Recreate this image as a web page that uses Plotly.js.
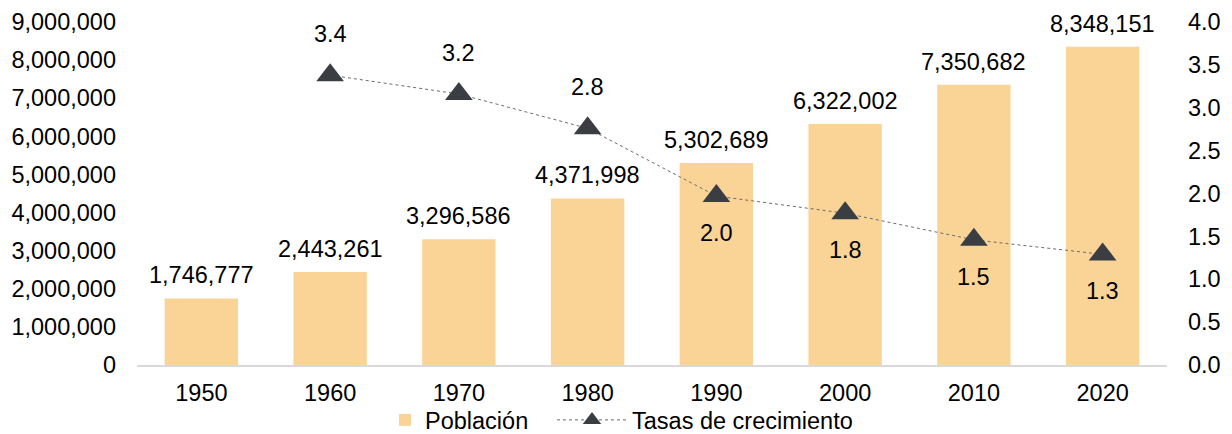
<!DOCTYPE html>
<html>
<head>
<meta charset="utf-8">
<script src="https://cdn.plot.ly/plotly-3.0.1.min.js"></script>
<style>html,body{margin:0;padding:0;background:#fff;}#chart{width:1232px;height:434px;}</style>
</head>
<body>
<div id="chart"></div>
<script>
const years = [1950, 1960, 1970, 1980, 1990, 2000, 2010, 2020];
const population = [1746777, 2443261, 3296586, 4371998, 5302689, 6322002, 7350682, 8348151];
const growthRates = [null, 3.38, 3.16, 2.76, 1.97, 1.77, 1.46, 1.29];
const leftTicks = [0, 1000000, 2000000, 3000000, 4000000, 5000000, 6000000, 7000000, 8000000, 9000000];
const rightTicks = [0, 0.5, 1, 1.5, 2, 2.5, 3, 3.5, 4];
const seriesNames = ['Población', 'Tasas de crecimiento'];

const FONT = 'Liberation Sans, Arial, sans-serif';
const FS = 23.5;

const bars = {
  type: 'bar', name: seriesNames[0], x: years, y: population, legend: 'legend',
  marker: {color: '#F9D496'}, width: 5.7, hoverinfo: 'skip'
};
const line = {
  type: 'scatter', mode: 'lines+markers', name: seriesNames[1], x: years, y: growthRates,
  yaxis: 'y2', connectgaps: false, legend: 'legend2',
  line: {color: '#6b6b6b', width: 1, dash: 'dot'},
  marker: {symbol: 'triangle-up', size: 24, color: '#3A3E43'}, hoverinfo: 'skip'
};

const annotations = [];
years.forEach((yr, i) => {
  annotations.push({
    x: yr, y: population[i], xref: 'x', yref: 'y',
    text: population[i].toLocaleString('en-US'), showarrow: false,
    yanchor: 'middle', yshift: 23, font: {family: FONT, size: FS, color: '#000'}
  });
  if (growthRates[i] !== null) {
    const above = growthRates[i] > 2.5;
    annotations.push({
      x: yr, y: growthRates[i], xref: 'x', yref: 'y2',
      text: growthRates[i].toFixed(1), showarrow: false,
      yanchor: 'middle', yshift: above ? 41 : -37, font: {family: FONT, size: FS, color: '#000'}
    });
  }
});

const legendBase = {orientation: 'h', xanchor: 'left', xref: 'container', y: 0.032, yanchor: 'middle', yref: 'container',
  bgcolor: 'rgba(0,0,0,0)', font: {family: FONT, size: FS, color: '#000'}};

const layout = {
  width: 1232, height: 434,
  margin: {l: 137, r: 65, t: 22, b: 69},
  paper_bgcolor: '#fff', plot_bgcolor: '#fff',
  font: {family: FONT, size: FS, color: '#000'},
  showlegend: true,
  legend: Object.assign({}, legendBase, {x: 385 / 1232, itemwidth: 30}),
  legend2: Object.assign({}, legendBase, {x: 552 / 1232, itemwidth: 70}),
  xaxis: {type: 'linear', range: [1945, 2025], tickvals: years, ticktext: years.map(String), automargin: false,
    showgrid: false, zeroline: false, showline: true,
    linecolor: '#d9d9d9', linewidth: 1.5, ticks: '', ticklabelstandoff: 6,
    tickfont: {family: FONT, size: FS, color: '#000'}},
  yaxis: {range: [0, 9000000], tickvals: leftTicks, ticktext: leftTicks.map(v => v.toLocaleString('en-US')), automargin: false,
    showgrid: false, zeroline: false, showline: false, ticks: '', ticklabelstandoff: 20,
    tickfont: {family: FONT, size: FS, color: '#000'}},
  yaxis2: {range: [0, 4], overlaying: 'y', side: 'right', tickvals: rightTicks, automargin: false,
    ticktext: rightTicks.map(v => v.toFixed(1)), showgrid: false, zeroline: false, showline: false,
    ticks: '', ticklabelstandoff: 20, tickfont: {family: FONT, size: FS, color: '#000'}},
  annotations: annotations
};

Plotly.newPlot('chart', [bars, line], layout, {staticPlot: true, displayModeBar: false});
</script>
</body>
</html>
